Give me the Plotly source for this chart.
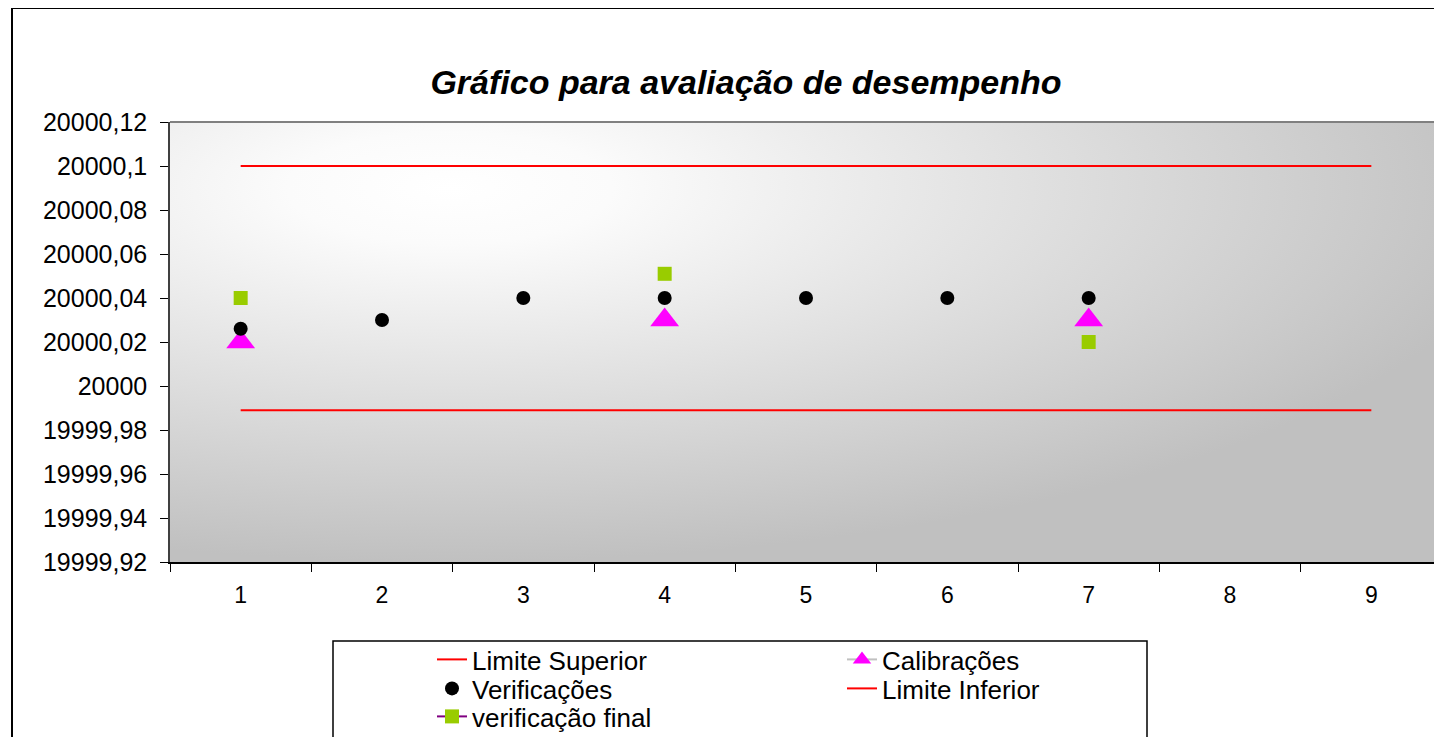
import base64
import plotly.graph_objects as go

categories = ["1", "2", "3", "4", "5", "6", "7", "8", "9"]
limite_superior = [20000.1] * 9
limite_inferior = [19999.989] * 9
verificacoes = [20000.026, 20000.03, 20000.04, 20000.04, 20000.04, 20000.04, 20000.04, None, None]
calibracoes = [20000.02, None, None, 20000.03, None, None, 20000.03, None, None]
verificacao_final = [20000.04, None, None, 20000.051, None, None, 20000.02, None, None]

y_ticks = [19999.92, 19999.94, 19999.96, 19999.98, 20000.0, 20000.02, 20000.04,
           20000.06, 20000.08, 20000.1, 20000.12]
y_ticktext = [f"{v:.2f}".rstrip("0").rstrip(".").replace(".", ",") for v in y_ticks]

FONT = "Liberation Sans, Arial, sans-serif"

W, H = 1434, 729
ML, MT, MB = 162, 114, 175
PW, PH = W - ML, H - MT - MB
OFF = 8  # page offset of the figure


def px_x(page_x):
    return (page_x - OFF - ML) / PW


def px_y(page_y):
    return (H - MB + OFF - page_y) / PH


svg = ('<svg xmlns="http://www.w3.org/2000/svg" width="100" height="100" viewBox="0 0 100 100" '
       'preserveAspectRatio="none"><defs><radialGradient id="g" cx="0.22" cy="0.15" r="0.85" '
       'fx="0.22" fy="0.15"><stop offset="0" stop-color="#ffffff"/><stop offset="0.15" stop-color="#fbfbfb"/>'
       '<stop offset="1" stop-color="#c0c0c0"/></radialGradient></defs>'
       '<rect x="0" y="0" width="100" height="100" fill="url(#g)"/></svg>')
bg_uri = "data:image/svg+xml;base64," + base64.b64encode(svg.encode()).decode()

fig = go.Figure()
fig.add_trace(go.Scatter(x=categories, y=limite_superior, name="Limite Superior", mode="lines",
                         line=dict(color="#ff0000", width=2), legend="legend"))
fig.add_trace(go.Scatter(x=categories, y=calibracoes, name="Calibrações", mode="lines+markers",
                         connectgaps=False, line=dict(color="#c0c0c0", width=2),
                         marker=dict(symbol="triangle-up", size=25, color="#ff00ff"),
                         legend="legend2"))
fig.add_trace(go.Scatter(x=categories, y=verificacoes, name="Verificações", mode="markers",
                         marker=dict(symbol="circle", size=14, color="#000000"), legend="legend3"))
fig.add_trace(go.Scatter(x=categories, y=limite_inferior, name="Limite Inferior", mode="lines",
                         line=dict(color="#ff0000", width=2), legend="legend4"))
fig.add_trace(go.Scatter(x=categories, y=verificacao_final, name="verificação final",
                         mode="lines+markers", connectgaps=False,
                         line=dict(color="#800080", width=2),
                         marker=dict(symbol="square", size=14, color="#99cc00"), legend="legend5"))


def leg(page_x, page_top):
    return dict(orientation="v", xanchor="left", yanchor="top", yref="container",
                x=px_x(page_x), y=1 - (page_top - OFF) / H,
                bgcolor="rgba(0,0,0,0)", borderwidth=0,
                font=dict(family=FONT, size=26, color="black"))


fig.update_layout(
    width=W, height=H,
    paper_bgcolor="white", plot_bgcolor="rgba(0,0,0,0)",
    margin=dict(l=ML, r=0, t=MT, b=MB, autoexpand=False),
    font=dict(family=FONT, size=24, color="black"),
    title=dict(text="<b><i>Gráfico para avaliação de desempenho</i></b>",
               x=(746 - OFF) / W, xref="container", xanchor="center",
               y=1 - (82 - OFF) / H, yref="container", yanchor="middle",
               font=dict(family=FONT, size=34, color="black")),
    showlegend=True,
    legend=leg(432, 636),
    legend2=leg(842, 636),
    legend3=leg(432, 665),
    legend4=leg(842, 665),
    legend5=leg(432, 693),
    xaxis=dict(type="category", range=[-0.5, 8.5], tickson="boundaries", ticks="outside",
               ticklen=8, tickcolor="black", showline=True, linecolor="black", linewidth=1.5,
               showgrid=False, zeroline=False, tickfont=dict(size=23), ticklabelstandoff=12,
               fixedrange=True),
    yaxis=dict(range=[19999.92, 20000.12], tickvals=y_ticks, ticktext=y_ticktext,
               ticks="outside", ticklen=8, tickcolor="black", showline=True,
               linecolor="#404040", linewidth=1.5, showgrid=False, zeroline=False,
               tickfont=dict(size=25), ticklabelstandoff=8, fixedrange=True),
    images=[dict(source=bg_uri, xref="paper", yref="paper", x=0, y=1, sizex=1, sizey=1,
                 xanchor="left", yanchor="top", sizing="stretch", layer="below")],
    shapes=[
        dict(type="line", xref="paper", yref="paper", x0=0, x1=1.01, y0=1, y1=1,
             line=dict(color="#808080", width=2)),
        dict(type="rect", xref="paper", yref="paper",
             x0=px_x(12), x1=1.05, y0=px_y(8), y1=px_y(800),
             line=dict(color="black", width=2), fillcolor="rgba(0,0,0,0)", layer="below"),
        dict(type="rect", xref="paper", yref="paper",
             x0=px_x(333), x1=px_x(1147), y0=px_y(641), y1=px_y(800),
             line=dict(color="black", width=1.5), fillcolor="white", layer="below"),
    ],
)

fig.write_html("out.html")
